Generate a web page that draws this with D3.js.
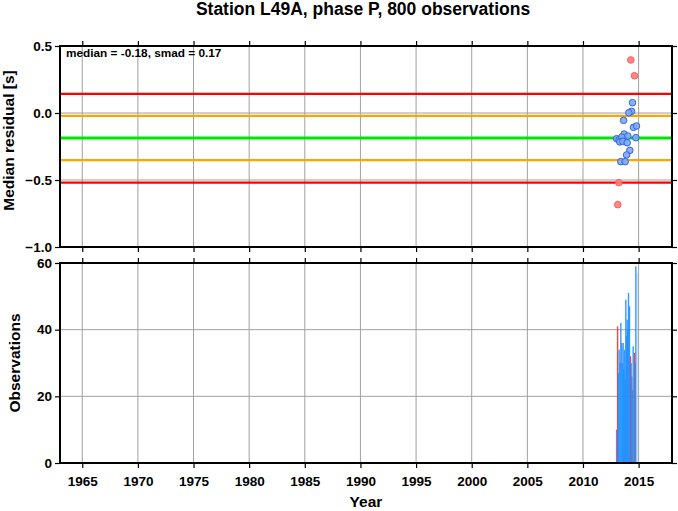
<!DOCTYPE html>
<html><head><meta charset="utf-8">
<script src="https://cdn.jsdelivr.net/npm/d3@7"></script>
<style>body{margin:0;background:#fff}svg{display:block}text{font-family:"Liberation Sans",Arial,sans-serif;font-weight:bold}</style>
</head><body>
<script>
const title = "Station L49A, phase P, 800 observations";
const annotation = "median = -0.18, smad = 0.17";
const yearTicks = [1965,1970,1975,1980,1985,1990,1995,2000,2005,2010,2015];
const residTicks = [0.5,0.0,-0.5,-1.0];
const obsTicks = [0,20,40,60];
// reference lines: median +/- smad, +/- 2 smad
const refValues = [0.142,-0.022,-0.187,-0.351,-0.520];
const refColors = ["#ff0000","#ffa500","#00e600","#ffa500","#ff0000"];
// scatter points: year, median residual, outlier flag
const ptYears = [2014.30,2014.63,2014.45,2014.36,2014.12,2013.65,2014.54,2014.81,2013.70,2014.03,2014.75,2013.02,2013.25,2013.49,2013.31,2013.58,2013.97,2014.21,2013.92,2013.40,2013.79,2013.22,2013.13];
const ptValues = [0.396,0.278,0.077,0.012,0.002,-0.055,-0.107,-0.097,-0.157,-0.172,-0.184,-0.192,-0.200,-0.180,-0.216,-0.211,-0.222,-0.279,-0.313,-0.363,-0.363,-0.520,-0.684];
const ptOutlier = [1,1,0,0,0,0,0,0,0,0,0,0,0,0,0,0,0,0,0,0,0,1,1];
// histogram bars: year, count, kind (0 blue, 1 red, 2 light)
const barYears = [2013.02,2013.11,2013.18,2013.25,2013.33,2013.40,2013.49,2013.55,2013.61,2013.67,2013.73,2013.80,2013.85,2013.91,2013.97,2014.03,2014.09,2014.18,2014.27,2014.33,2014.39,2014.45,2014.51,2014.63,2014.69,2014.75,2014.84];
const barCounts = [10,41,27,34,30,42,36,30,36,28,34,25,49,38,43,40,51,47,32,30,26,22,35,33,30,59,57];
const barKind = [0,1,0,0,0,0,0,0,0,0,0,0,0,0,0,0,0,0,1,0,0,0,0,1,0,0,2];

const W=678,H=511;
const L=60,R=672,T1=46,B1=247,T2=263,B2=463;
const svg=d3.select("body").append("svg").attr("width",W).attr("height",H);
const x=d3.scaleLinear().domain([1963,2018]).range([L,R]);
const y1=d3.scaleLinear().domain([-1,0.5]).range([B1,T1]);
const y2=d3.scaleLinear().domain([0,60]).range([B2,T2]);

svg.append("text").attr("x",363).attr("y",15).attr("text-anchor","middle").attr("font-size",17.5).text(title);

function grid(yScale,yGrid,top,bot){
  const g=svg.append("g");
  yearTicks.forEach(t=>g.append("line").attr("x1",x(t)).attr("x2",x(t)).attr("y1",top).attr("y2",bot).attr("stroke","#a0a0a0").attr("stroke-width",1));
  yGrid.forEach(v=>g.append("line").attr("x1",L).attr("x2",R).attr("y1",yScale(v)).attr("y2",yScale(v)).attr("stroke","#a0a0a0").attr("stroke-width",1));
}
grid(y1,[0,-0.5],T1,B1);
grid(y2,[20,40],T2,B2);

// reference lines
refValues.forEach((v,i)=>svg.append("line").attr("x1",L).attr("x2",R).attr("y1",y1(v)).attr("y2",y1(v)).attr("stroke",refColors[i]).attr("stroke-width",i===2?3:2.2));

// points
const pts=ptYears.map((d,i)=>({x:d,y:ptValues[i],o:ptOutlier[i]}));
svg.append("g").selectAll("circle").data(pts).join("circle")
  .attr("cx",d=>x(d.x)).attr("cy",d=>y1(d.y)).attr("r",3.3)
  .attr("fill",d=>d.o?"#ff7c7c":"#7fa7f5").attr("stroke",d=>d.o?"#ff5a5a":"#2f66e0").attr("stroke-width",1).attr("fill-opacity",0.9);

svg.append("text").attr("x",66).attr("y",57).attr("font-size",11.8).text(annotation);

// bars
const bars=barYears.map((d,i)=>({x:d,c:barCounts[i],k:barKind[i]}));
const colK=["#1e90ff","#ff2a2a","#8cc4ff"];
svg.append("g").selectAll("rect").data(bars).join("rect")
  .attr("x",d=>x(d.x)-0.7).attr("width",1.4).attr("y",d=>y2(d.c)).attr("height",d=>y2(0)-y2(d.c))
  .attr("fill",d=>colK[d.k]).attr("fill-opacity",0.9);

// frames and axes
function frame(top,bot){
  svg.append("rect").attr("x",L).attr("y",top).attr("width",R-L).attr("height",bot-top).attr("fill","none").attr("stroke","#000").attr("stroke-width",2);
}
frame(T1,B1);frame(T2,B2);

function styleText(g){g.selectAll("text").attr("font-size",13.5).attr("font-family","Liberation Sans, Arial, sans-serif").attr("font-weight","bold").attr("fill","#000");}
function yAxis(scale,ticks,fmt){
  const gl=svg.append("g").attr("transform",`translate(${L},0)`).call(d3.axisLeft(scale).tickValues(ticks).tickFormat(fmt).tickSize(5).tickPadding(3));
  const gr=svg.append("g").attr("transform",`translate(${R},0)`).call(d3.axisRight(scale).tickValues(ticks).tickFormat("").tickSize(5));
  [gl,gr].forEach(g=>{g.select(".domain").remove();g.selectAll("line").attr("stroke-width",1.2);styleText(g);});
}
yAxis(y1,residTicks,d3.format(".1f"));
yAxis(y2,obsTicks,d3.format("d"));

function xTicks(yPos,dir,labels){
  const ax=dir<0?d3.axisTop(x):d3.axisBottom(x);
  const g=svg.append("g").attr("transform",`translate(0,${yPos})`).call(ax.tickValues(yearTicks).tickFormat(labels?d3.format("d"):"").tickSize(5).tickPadding(8));
  g.select(".domain").remove();g.selectAll("line").attr("stroke-width",1.2);
  styleText(g);
}
xTicks(T1,-1,false);xTicks(B1,1,false);xTicks(T2,-1,false);xTicks(B2,1,true);

svg.append("text").attr("transform",`translate(14,${(T1+B1)/2-6}) rotate(-90)`).attr("text-anchor","middle").attr("font-size",15.5).text("Median residual [s]");
svg.append("text").attr("transform",`translate(20,${(T2+B2)/2}) rotate(-90)`).attr("text-anchor","middle").attr("font-size",15.5).text("Observations");
svg.append("text").attr("x",366).attr("y",507).attr("text-anchor","middle").attr("font-size",15.5).text("Year");
</script>
</body></html>
